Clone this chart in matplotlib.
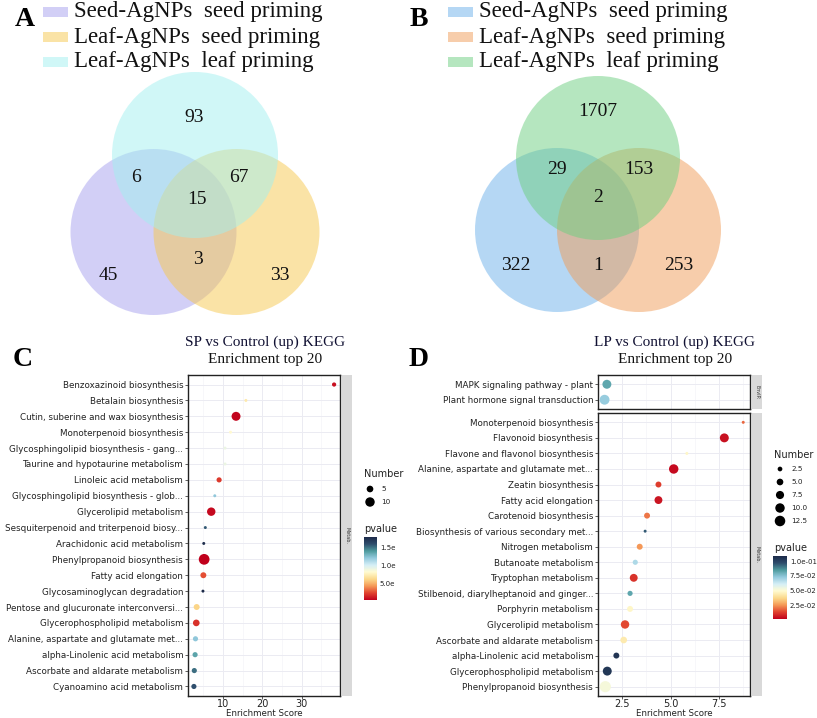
import numpy as np
import matplotlib
matplotlib.use("Agg")
import matplotlib.pyplot as plt
from matplotlib.patches import Circle, Rectangle
from matplotlib.colors import LinearSegmentedColormap, Normalize
from matplotlib.cm import ScalarMappable

W, H = 817, 718

# ---------------- data ----------------
groups = ["Seed-AgNPs  seed priming", "Leaf-AgNPs  seed priming", "Leaf-AgNPs  leaf priming"]

# region order: only1, only2, only3, 1&2, 1&3, 2&3, all
venn_a = [45, 33, 93, 3, 6, 67, 15]
venn_b = [322, 253, 1707, 1, 29, 153, 2]
colors_a = ["#a7a1ef", "#f7c84e", "#a2f0f0"]
colors_b = ["#6cb1eb", "#f09c58", "#6ccf80"]

c_terms = [
    "Benzoxazinoid biosynthesis",
    "Betalain biosynthesis",
    "Cutin, suberine and wax biosynthesis",
    "Monoterpenoid biosynthesis",
    "Glycosphingolipid biosynthesis - gang...",
    "Taurine and hypotaurine metabolism",
    "Linoleic acid metabolism",
    "Glycosphingolipid biosynthesis - glob...",
    "Glycerolipid metabolism",
    "Sesquiterpenoid and triterpenoid biosy...",
    "Arachidonic acid metabolism",
    "Phenylpropanoid biosynthesis",
    "Fatty acid elongation",
    "Glycosaminoglycan degradation",
    "Pentose and glucuronate interconversi...",
    "Glycerophospholipid metabolism",
    "Alanine, aspartate and glutamate met...",
    "alpha-Linolenic acid metabolism",
    "Ascorbate and aldarate metabolism",
    "Cyanoamino acid metabolism",
]
c_score = [38.2, 15.8, 13.3, 11.9, 10.5, 10.5, 9.0, 7.9, 7.0, 5.5,
           5.1, 5.2, 5.0, 4.9, 3.3, 3.2, 3.0, 2.9, 2.7, 2.6]
c_number = [2, 1, 9, 1, 1, 1, 3, 1, 8, 1,
            1, 13, 4, 1, 4, 5, 3, 3, 3, 3]
c_pvalue = [0.0008, 0.0070, 0.0005, 0.0080, 0.0090, 0.0090, 0.0020, 0.0120, 0.0006, 0.0155,
            0.0175, 0.0003, 0.0025, 0.0178, 0.0060, 0.0018, 0.0120, 0.0135, 0.0150, 0.0158]

d_env_terms = ["MAPK signaling pathway - plant", "Plant hormone signal transduction"]
d_env_score = [1.70, 1.58]
d_env_number = [9, 11]
d_env_pvalue = [0.082, 0.072]

d_terms = [
    "Monoterpenoid biosynthesis",
    "Flavonoid biosynthesis",
    "Flavone and flavonol biosynthesis",
    "Alanine, aspartate and glutamate met...",
    "Zeatin biosynthesis",
    "Fatty acid elongation",
    "Carotenoid biosynthesis",
    "Biosynthesis of various secondary met...",
    "Nitrogen metabolism",
    "Butanoate metabolism",
    "Tryptophan metabolism",
    "Stilbenoid, diarylheptanoid and ginger...",
    "Porphyrin metabolism",
    "Glycerolipid metabolism",
    "Ascorbate and aldarate metabolism",
    "alpha-Linolenic acid metabolism",
    "Glycerophospholipid metabolism",
    "Phenylpropanoid biosynthesis",
]
d_score = [8.76, 7.78, 5.84, 5.16, 4.37, 4.37, 3.78, 3.68, 3.40, 3.17,
           3.09, 2.90, 2.90, 2.64, 2.57, 2.19, 1.72, 1.62]
d_number = [1, 9, 1, 10, 4, 7, 4, 1, 4, 3,
            7, 3, 4, 8, 5, 4, 9, 14]
d_pvalue = [0.018, 0.004, 0.047, 0.003, 0.012, 0.005, 0.020, 0.095, 0.025, 0.068,
            0.010, 0.082, 0.047, 0.014, 0.043, 0.105, 0.104, 0.052]

c_size_breaks = [5, 10]
d_size_breaks = [2.5, 5.0, 7.5, 10.0, 12.5]
c_p_ticks = [0.005, 0.010, 0.015]
c_p_labels = ["5.0e", "1.0e", "1.5e"]
d_p_ticks = [0.025, 0.050, 0.075, 0.100]
d_p_labels = ["2.5e-02", "5.0e-02", "7.5e-02", "1.0e-01"]

# ---------------- style ----------------
SIZE_K = 4.6
SERIF = ["Liberation Serif", "DejaVu Serif"]
cmap = LinearSegmentedColormap.from_list(
    "pv", ["#c0001c", "#e1432f", "#f59a58", "#fbd98c", "#fffbd2",
           "#d5eef6", "#92c9dc", "#4f9c9f", "#2e4d6c", "#1c2a48"])
GRID = "#ebebf2"


def rect(x0, y0, x1, y1):
    return [x0 / W, 1 - y1 / H, (x1 - x0) / W, (y1 - y0) / H]


fig = plt.figure(figsize=(W / 100, H / 100), dpi=100)
ov = fig.add_axes([0, 0, 1, 1])
ov.set_xlim(0, W)
ov.set_ylim(H, 0)
ov.axis("off")


def venn(counts, colors, cx, cy, r, dy, label_pos, leg_x):
    centers = [(cx - r / 2, cy + dy), (cx + r / 2, cy + dy), (cx, cy - dy)]
    for (x, y), col in zip(centers, colors):
        ov.add_patch(Circle((x, y), r, facecolor=col, edgecolor="none", alpha=0.5))
    for n, (ox, oy) in zip(counts, label_pos):
        ov.text(cx + ox, cy + oy, str(n), ha="center", va="center",
                fontsize=14, family=SERIF, color="#111111")
    for i, (g, col) in enumerate(zip(groups, colors)):
        y = 12 + 25 * i
        ov.add_patch(Rectangle((leg_x, y - 5), 25, 10, facecolor=col, alpha=0.5,
                               edgecolor="none"))
        ov.text(leg_x + 31, y, g, ha="left", va="center", fontsize=16.5,
                family=SERIF, color="#111111")


venn(venn_a, colors_a, 195, 193.5, 83, 38.5,
     [(-87, 81.5), (85, 81.5), (-1, -76.5), (3, 66.5), (-59, -16.5), (44, -16.5), (2, 5.5)],
     43)
venn(venn_b, colors_b, 598, 194, 82, 36,
     [(-82, 71), (81, 71), (0, -82), (0, 71), (-41, -25), (41, -25), (0, 3)], 448)

for lab, x, y in [("A", 25, 19), ("B", 419, 19), ("C", 23, 359), ("D", 419, 359)]:
    ov.text(x, y, lab, ha="center", va="center", fontsize=20, fontweight="bold",
            family=SERIF, color="black")

for head, x in [("SP vs Control (up) KEGG", 265), ("LP vs Control (up) KEGG", 675)]:
    ov.text(x, 342, head, ha="center", va="center", fontsize=11, family=SERIF,
            color="#111133")
    ov.text(x, 360, "Enrichment top 20", ha="center", va="center", fontsize=11,
            family=SERIF, color="#111111")


def dot_panel(box, terms, score, number, pval, norm, xlim, xticks, xminor, show_x):
    ax = fig.add_axes(rect(*box))
    y = np.arange(len(terms))[::-1]
    ax.scatter(score, y, s=SIZE_K * np.array(number), c=pval, cmap=cmap, norm=norm,
               edgecolors="none", zorder=3)
    ax.set_ylim(-0.6, len(terms) - 0.4)
    ax.set_yticks(y)
    ax.set_yticklabels(terms, fontsize=6.3, color="#222222")
    ax.set_xlim(*xlim)
    ax.set_xticks(xticks)
    ax.set_xticks(xminor, minor=True)
    ax.grid(which="major", color=GRID, lw=0.7)
    ax.grid(which="minor", axis="x", color="#f4f4f8", lw=0.5)
    ax.set_axisbelow(True)
    for s in ax.spines.values():
        s.set_linewidth(1.0)
        s.set_color("#222222")
    ax.tick_params(axis="both", which="major", length=2, width=0.6, color="#444444",
                   pad=1.5)
    ax.tick_params(axis="x", which="minor", length=0)
    if show_x:
        ax.tick_params(axis="x", labelsize=7, labelcolor="#222222", pad=0.5)
        ov.text((box[0] + box[2]) / 2, 713.5, "Enrichment Score", ha="center",
                va="center", fontsize=6.2, color="#222222")
    else:
        ax.tick_params(axis="x", labelbottom=False, length=0)
    return ax


def strip(box, label):
    sa = fig.add_axes(rect(*box))
    sa.set_facecolor("#d9d9d9")
    sa.set_xticks([])
    sa.set_yticks([])
    for s in sa.spines.values():
        s.set_visible(False)
    sa.text(0.5, 0.5, label, rotation=-90, ha="center", va="center", fontsize=3.5,
            color="#333333", transform=sa.transAxes)


def legend(x, y_title, breaks, y_dots, p_title_y, cbar_box, norm, ticks, labels):
    ov.text(x, y_title, "Number", ha="left", va="center", fontsize=7, color="#222222")
    ov.scatter([x + 6] * len(breaks), y_dots, s=SIZE_K * np.array(breaks), c="black",
               edgecolors="none")
    for b, yy in zip(breaks, y_dots):
        ov.text(x + 17, yy, f"{b:g}" if isinstance(b, int) else f"{b:.1f}", ha="left",
                va="center", fontsize=5.2, color="#222222")
    ov.text(x, p_title_y, "pvalue", ha="left", va="center", fontsize=7, color="#222222")
    cax = fig.add_axes(rect(*cbar_box))
    cb = fig.colorbar(ScalarMappable(norm=norm, cmap=cmap), cax=cax)
    cb.outline.set_visible(False)
    cb.set_ticks(ticks)
    cb.set_ticklabels(labels)
    cax.tick_params(length=0, labelsize=5.0, labelcolor="#222222", pad=2)


norm_c = Normalize(0.0003, 0.0178)
norm_d = Normalize(0.001, 0.109)

dot_panel((188, 375, 340, 696), c_terms, c_score, c_number, c_pvalue, norm_c,
          (1.1, 39.7), [10, 20, 30], [5, 15, 25, 35], True)
strip((342, 375, 352, 696), "Metab.")
legend(364, 474, c_size_breaks, [489, 502], 529, (364, 537, 377, 600), norm_c,
       c_p_ticks, c_p_labels)

dot_panel((598, 375, 750, 409), d_env_terms, d_env_score, d_env_number, d_env_pvalue,
          norm_d, (1.24, 9.11), [2.5, 5.0, 7.5], [1.25, 3.75, 6.25, 8.75], False)
strip((752, 375, 762, 409), "EnvIP.")
dot_panel((598, 413, 750, 696), d_terms, d_score, d_number, d_pvalue, norm_d,
          (1.24, 9.11), [2.5, 5.0, 7.5], [1.25, 3.75, 6.25, 8.75], True)
strip((752, 413, 762, 696), "Metab.")
legend(774, 455, d_size_breaks, [469, 482, 495, 508, 521], 548, (773, 556, 787, 619),
       norm_d, d_p_ticks, d_p_labels)

fig.savefig("out.png", dpi=100)
